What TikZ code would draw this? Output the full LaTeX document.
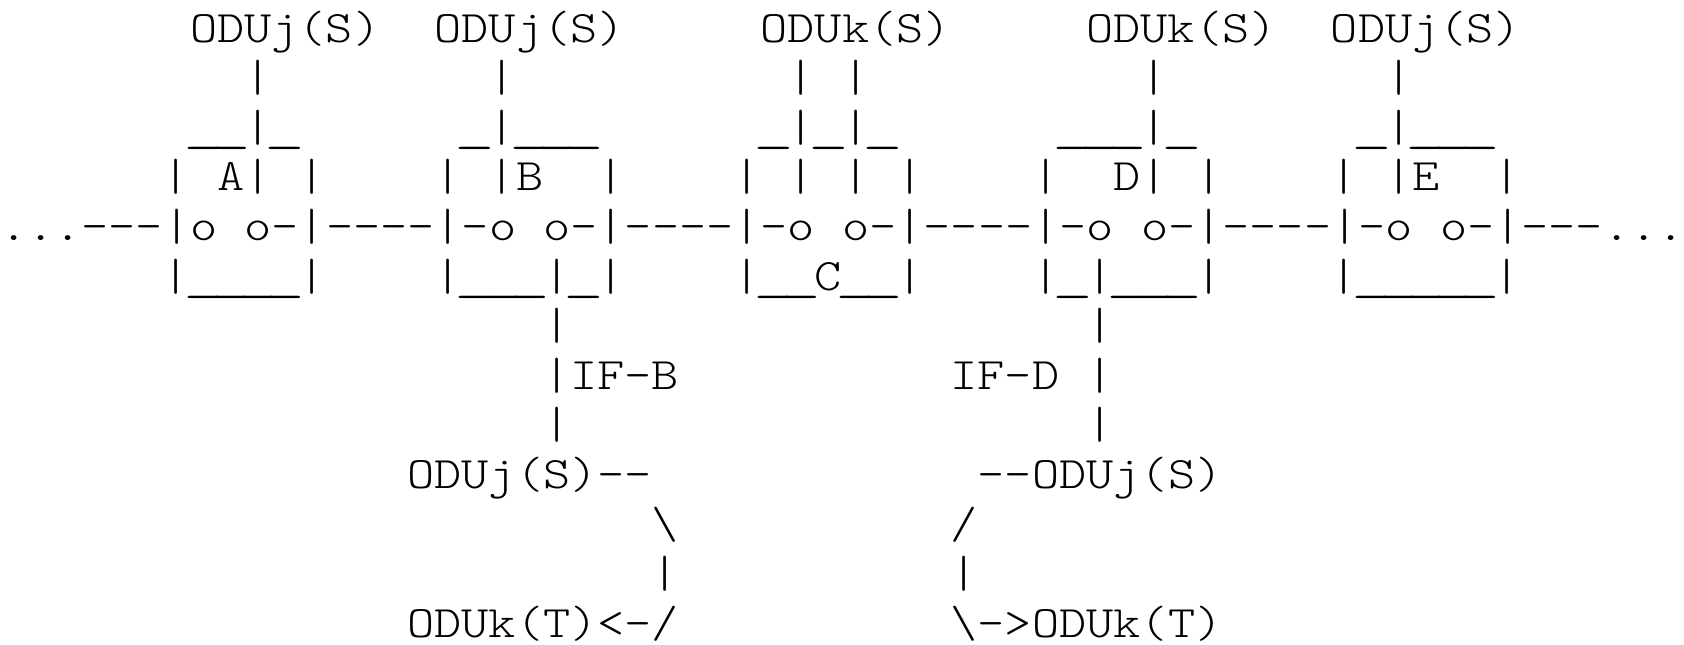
\documentclass[tikz,border=0pt]{standalone}
\newcommand\us{\makebox[0.525em]{\scalebox{1.5}[1]{\_}}}
\tikzset{
  ascii/.style={font=\fontsize{11.25pt}{12.4pt}\selectfont\ttfamily\fontseries{l}\selectfont,anchor=base west,inner sep=0pt,outer sep=0pt,xscale=1.15,transform shape}
}
\begin{document}
\begin{tikzpicture}[x=6.79pt,y=-12.4pt]
 \useasboundingbox (0,0.15) rectangle (62,13.15);
 \node[ascii] (srcA) at (7,1)  {ODUj(S)};
 \node[ascii] (srcB) at (16,1) {ODUj(S)};
 \node[ascii] (srcC) at (28,1) {ODUk(S)};
 \node[ascii] (srcD) at (40,1) {ODUk(S)};
 \node[ascii] (srcE) at (49,1) {ODUj(S)};
 \foreach \c in {9,18,29,31,42,51}
 \node[ascii] (up\c) at (\c,2) {|};
 \node[ascii] (topA) at (7,3)  {\us\us|\us};
 \node[ascii] (topB) at (17,3) {\us|\us\us\us};
 \node[ascii] (topC) at (28,3) {\us|\us|\us};
 \node[ascii] (topD) at (39,3) {\us\us\us|\us};
 \node[ascii] (topE) at (50,3) {\us|\us\us\us};
 \node[ascii] (midA) at (6,4)  {| A| |};
 \node[ascii] (midB) at (16,4) {| |B~~|};
 \node[ascii] (midC) at (27,4) {| | | |};
 \node[ascii] (midD) at (38,4) {|~~D| |};
 \node[ascii] (midE) at (49,4) {| |E~~|};
 \node[ascii] (ring) at (0,5)  {...---|o o-|----|-o o-|----|-o o-|----|-o o-|----|-o o-|---...};
 \node[ascii] (botA) at (6,6)  {|\us\us\us\us|};
 \node[ascii] (botB) at (16,6) {|\us\us\us|\us|};
 \node[ascii] (botC) at (27,6) {|\us\us C\us\us|};
 \node[ascii] (botD) at (38,6) {|\us|\us\us\us|};
 \node[ascii] (botE) at (49,6) {|\us\us\us\us\us|};
 \foreach \r in {7,9}
 \foreach \c in {20,40}
 \node[ascii] (dn\c-\r) at (\c,\r) {|};
 \node[ascii] (ifB) at (20,8) {|IF-B};
 \node[ascii] (ifD) at (35,8) {IF-D |};
 \node[ascii] (inB) at (15,10) {ODUj(S)--};
 \node[ascii] (inD) at (36,10) {--ODUj(S)};
 \node[ascii] (bsB) at (24,11) {\textbackslash};
 \node[ascii] (slD) at (35,11) {/};
 \node[ascii] (vB) at (24,12) {|};
 \node[ascii] (vD) at (35,12) {|};
 \node[ascii] (outB) at (15,13) {ODUk(T)<-/};
 \node[ascii] (outD) at (35,13) {\textbackslash->ODUk(T)};
\end{tikzpicture}
\end{document}
